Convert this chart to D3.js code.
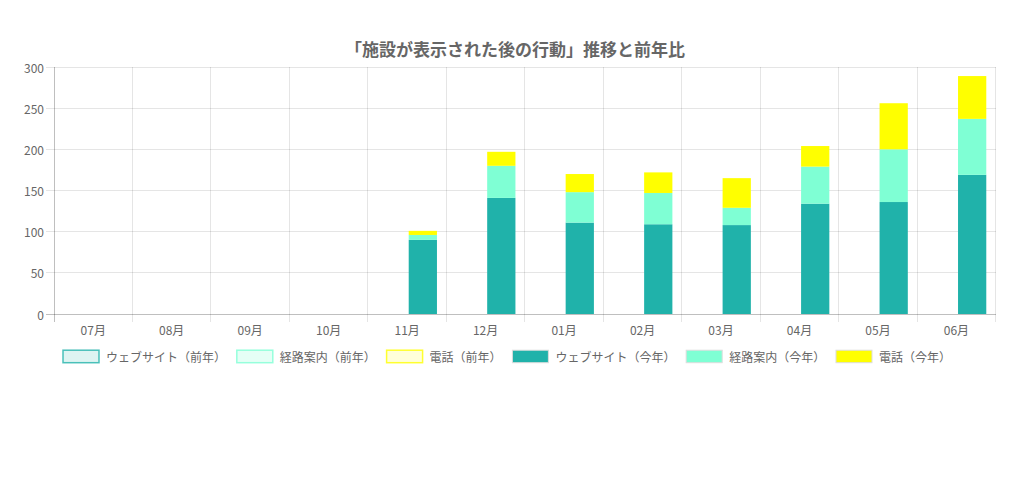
<!DOCTYPE html>
<html><head><meta charset="utf-8">
<script src="https://cdn.jsdelivr.net/npm/d3@7"></script>
<style>
html,body{margin:0;padding:0;background:#fff;}
svg{display:block;}
text{font-family:"Noto Sans CJK JP","Noto Sans",sans-serif;}
</style></head>
<body>
<svg id="chart" width="1024" height="478"></svg>
<script>
const title = "「施設が表示された後の行動」推移と前年比";
const months = ["07月","08月","09月","10月","11月","12月","01月","02月","03月","04月","05月","06月"];
const yTicks = [0,50,100,150,200,250,300];
// previous year (all zero in the picture)
const webPrev   = [0,0,0,0,0,0,0,0,0,0,0,0];
const routePrev = [0,0,0,0,0,0,0,0,0,0,0,0];
const phonePrev = [0,0,0,0,0,0,0,0,0,0,0,0];
// this year
const webCur   = [0,0,0,0,90,141,111,109,108,134,136,169];
const routeCur = [0,0,0,0,6,39,37,38,21,45,64,68];
const phoneCur = [0,0,0,0,5,17,22,25,36,25,56,52];

const seriesNames = ["ウェブサイト（前年）","経路案内（前年）","電話（前年）","ウェブサイト（今年）","経路案内（今年）","電話（今年）"];
const stackNames = ["前年","今年"];

const styles = [
  {fill:"rgba(32,178,170,0.15)", stroke:"rgba(32,178,170,0.8)"},
  {fill:"rgba(127,255,212,0.2)", stroke:"rgba(127,255,212,0.8)"},
  {fill:"rgba(255,255,0,0.15)", stroke:"rgba(255,255,0,0.8)"},
  {fill:"#20b2aa", stroke:"#dddddd"},
  {fill:"#7fffd4", stroke:"#dddddd"},
  {fill:"#ffff00", stroke:"#dddddd"}
];

const svg = d3.select("#chart");
const L = 54, R = 995.7, T = 67, B = 314;

const x = d3.scaleBand().domain(months).range([L, R]).paddingInner(0).paddingOuter(0);
const bw = x.bandwidth();
const xs = d3.scaleBand().domain(stackNames).range([bw*0.1, bw*0.9]).paddingInner(0.1).paddingOuter(0.05);
const y = d3.scaleLinear().domain([0,300]).range([B, T]);

// grid
const grid = svg.append("g");
yTicks.forEach(t => {
  grid.append("line").attr("x1", L-8).attr("x2", R).attr("y1", y(t)).attr("y2", y(t))
    .attr("stroke", t===0 ? "rgba(0,0,0,0.25)" : "rgba(0,0,0,0.1)").attr("stroke-width",1)
    .attr("shape-rendering","crispEdges");
});
const xb = months.map(m => x(m)).concat([R]);
xb.forEach(v => {
  grid.append("line").attr("x1", v).attr("x2", v).attr("y1", T).attr("y2", B+8)
    .attr("stroke", v===L ? "rgba(0,0,0,0.25)" : "rgba(0,0,0,0.1)").attr("stroke-width",1)
    .attr("shape-rendering","crispEdges");
});

// y tick labels
svg.append("g").selectAll("text").data(yTicks).join("text")
  .attr("x", L-10).attr("y", d => y(d)).attr("text-anchor","end")
  .attr("dominant-baseline","central").attr("font-size",12).attr("fill","#666")
  .text(d => d);

// x tick labels
svg.append("g").selectAll("text").data(months).join("text")
  .attr("x", d => x(d)+bw/2).attr("y", 329.5).attr("text-anchor","middle")
  .attr("dominant-baseline","central").attr("font-size",12).attr("fill","#666")
  .text(d => d);

// stacks
function drawStack(stackName, arrays, styleOffset){
  const rows = months.map((m,i) => ({month:m, a:arrays[0][i], b:arrays[1][i], c:arrays[2][i]}));
  const st = d3.stack().keys(["a","b","c"])(rows);
  st.forEach((layer, li) => {
    const s = styles[styleOffset+li];
    svg.append("g").selectAll("rect").data(layer.filter(d => d[1]-d[0] > 0)).join("rect")
      .attr("x", d => x(d.data.month) + xs(stackName))
      .attr("width", xs.bandwidth())
      .attr("y", d => y(d[1]))
      .attr("height", d => y(d[0]) - y(d[1]))
      .attr("fill", s.fill);
  });
}
drawStack("前年", [webPrev, routePrev, phonePrev], 0);
drawStack("今年", [webCur, routeCur, phoneCur], 3);

// title
svg.append("text").attr("x", 515).attr("y", 48.5).attr("text-anchor","middle")
  .attr("dominant-baseline","central").attr("font-size",17).attr("font-weight","bold")
  .attr("fill","#666").text(title);

// legend
const lg = svg.append("g");
const boxW = 36, boxH = 12.5, gapBT = 7;
const items = seriesNames.map((n,i) => {
  const g = lg.append("g");
  g.append("rect").attr("width", boxW).attr("height", boxH).attr("y", 350.2)
    .attr("fill", styles[i].fill).attr("stroke", styles[i].stroke).attr("stroke-width", i<3 ? 1.5 : 1);
  const t = g.append("text").attr("x", boxW+gapBT).attr("y", 356.5).attr("dominant-baseline","central")
    .attr("font-size",12).attr("fill","#666").text(n);
  return {g, w: boxW + gapBT + t.node().getComputedTextLength()};
});
const textSum = d3.sum(items, d => d.w);
const targetTotal = 888;
const gapItem = Math.max(6, (targetTotal - textSum) / (items.length - 1));
const total = textSum + gapItem*(items.length-1);
let cx = 507 - total/2;
items.forEach(it => { it.g.attr("transform", `translate(${cx},0)`); cx += it.w + gapItem; });
</script>
</body></html>
